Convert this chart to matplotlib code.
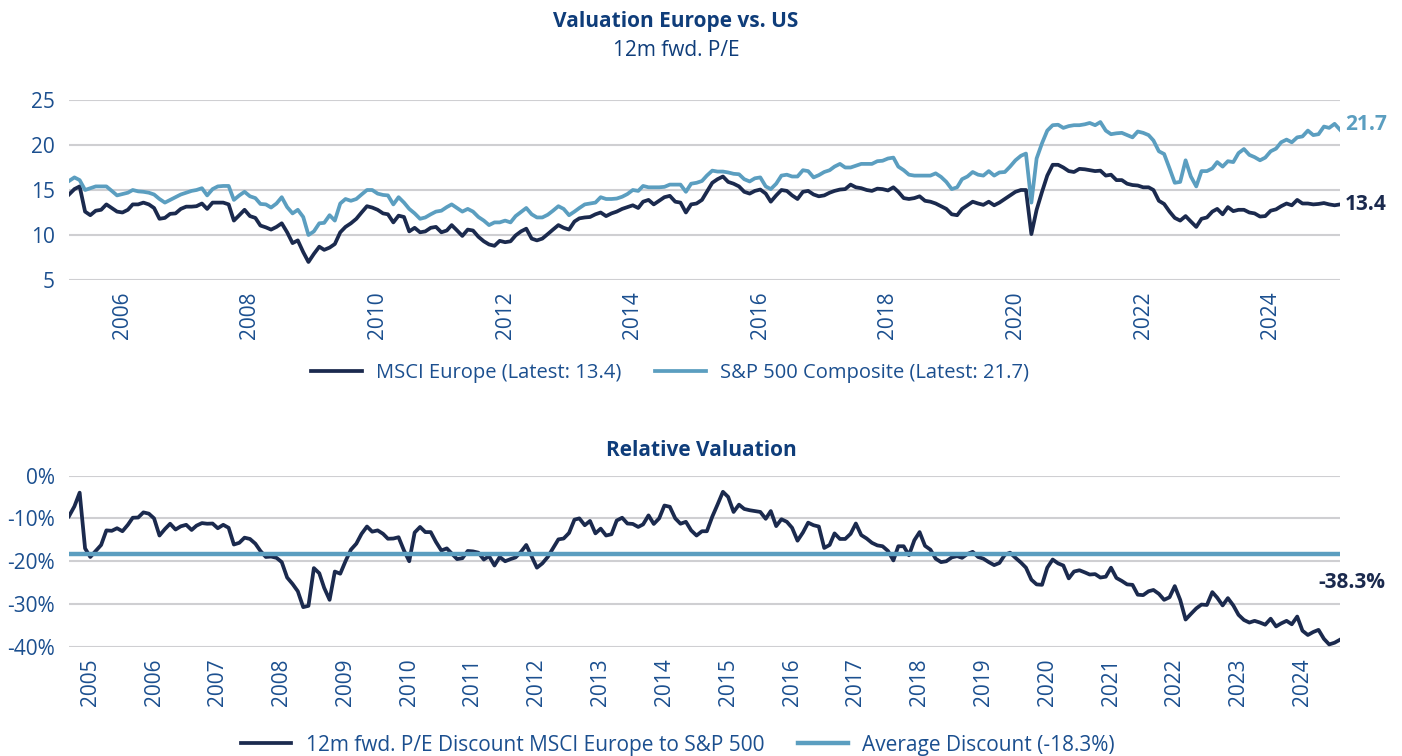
import matplotlib
matplotlib.use('Agg')
import matplotlib.pyplot as plt
import pandas as pd

plt.rcParams['font.family'] = ['Open Sans', 'DejaVu Sans']

# monthly 12m fwd. P/E, Mar 2005 - Feb 2025
europe = [
    14.5, 15.1, 15.4, 12.6, 12.2, 12.7, 12.8, 13.4, 13.0, 12.6,
    12.5, 12.8, 13.4, 13.4, 13.6, 13.4, 13.0, 11.8, 11.9, 12.35,
    12.4, 12.9, 13.15, 13.15, 13.2, 13.5, 12.9, 13.6, 13.6, 13.6,
    13.4, 11.6, 12.2, 12.8, 12.1, 11.9, 11.05, 10.85, 10.6, 10.9,
    11.3, 10.3, 9.1, 9.4, 8.1, 7.0, 7.9, 8.7, 8.35, 8.6,
    9.0, 10.3, 10.9, 11.3, 11.8, 12.5, 13.2, 13.05, 12.8, 12.4,
    12.3, 11.4, 12.15, 12.0, 10.4, 10.8, 10.3, 10.4, 10.8, 10.9,
    10.3, 10.5, 11.1, 10.5, 9.9, 10.6, 10.5, 9.8, 9.3, 8.95,
    8.8, 9.35, 9.2, 9.3, 9.95, 10.4, 10.7, 9.6, 9.4, 9.6,
    10.1, 10.6, 11.1, 10.8, 10.6, 11.5, 11.85, 11.95, 12.0, 12.3,
    12.5, 12.1, 12.4, 12.6, 12.9, 13.1, 13.3, 13.0, 13.7, 13.9,
    13.4, 13.8, 14.2, 14.35, 13.7, 13.6, 12.5, 13.4, 13.5, 13.9,
    14.8, 15.8, 16.2, 16.5, 15.9, 15.7, 15.4, 14.8, 14.6, 14.9,
    15.05, 14.6, 13.7, 14.4, 15.0, 14.9, 14.4, 14.0, 14.8, 14.9,
    14.5, 14.3, 14.4, 14.7, 14.9, 15.05, 15.1, 15.6, 15.3, 15.2,
    15.0, 14.9, 15.15, 15.1, 14.95, 15.3, 14.8, 14.1, 14.0, 14.1,
    14.3, 13.8, 13.7, 13.5, 13.2, 12.9, 12.3, 12.2, 12.9, 13.3,
    13.7, 13.5, 13.35, 13.7, 13.3, 13.6, 14.0, 14.4, 14.8, 15.0,
    15.0, 10.1, 12.8, 14.8, 16.6, 17.8, 17.8, 17.5, 17.1, 17.0,
    17.35, 17.3, 17.2, 17.1, 17.15, 16.6, 16.7, 16.1, 16.1, 15.7,
    15.55, 15.5, 15.3, 15.3, 15.0, 13.8, 13.45, 12.6, 11.9, 11.6,
    12.1, 11.5, 10.9, 11.8, 11.95, 12.6, 12.9, 12.3, 13.1, 12.65,
    12.8, 12.8, 12.5, 12.4, 12.05, 12.1, 12.7, 12.85, 13.2, 13.5,
    13.3, 13.9, 13.5, 13.5, 13.4, 13.45, 13.55, 13.4, 13.3, 13.4,
]
sp500 = [
    16.0, 16.4, 16.1, 15.0, 15.2, 15.4, 15.4, 15.4, 14.9, 14.4,
    14.55, 14.7, 15.0, 14.85, 14.8, 14.7, 14.5, 14.0, 13.6, 13.9,
    14.2, 14.5, 14.7, 14.9, 15.0, 15.2, 14.4, 15.1, 15.4, 15.45,
    15.45, 13.9, 14.4, 14.8, 14.3, 14.1, 13.45, 13.4, 13.05, 13.5,
    14.2, 13.1, 12.4, 12.8, 12.0, 10.0, 10.4, 11.3, 11.35, 12.2,
    11.6, 13.5, 14.0, 13.8, 14.0, 14.5, 15.0, 15.0, 14.6, 14.45,
    14.4, 13.4, 14.2, 13.6, 12.9, 12.4, 11.8, 11.95, 12.3, 12.6,
    12.7, 13.1, 13.4, 13.0, 12.6, 12.9, 12.6, 12.0, 11.6, 11.1,
    11.4, 11.4, 11.6, 11.4, 12.1, 12.55, 13.0, 12.3, 11.95, 11.95,
    12.25, 12.7, 13.2, 12.9, 12.2, 12.6, 13.0, 13.4, 13.5, 13.6,
    14.2, 14.0, 14.0, 14.05, 14.25, 14.55, 15.0, 14.9, 15.45, 15.3,
    15.3, 15.3, 15.35, 15.6, 15.6, 15.6, 14.8, 15.7, 15.8, 16.0,
    16.6, 17.15, 17.05, 17.05, 16.95, 16.8, 16.75, 16.2, 15.95, 16.3,
    16.4, 15.4, 15.1, 15.7, 16.6, 16.7, 16.5, 16.5, 17.2, 17.1,
    16.4, 16.65, 17.0, 17.2, 17.6, 17.9, 17.5, 17.5, 17.7, 17.9,
    17.9, 17.9, 18.2, 18.25, 18.5, 18.6, 17.6, 17.2, 16.7, 16.6,
    16.6, 16.6, 16.6, 16.85, 16.45, 15.9, 15.1, 15.3, 16.2, 16.5,
    17.0, 16.7, 16.6, 17.1, 16.6, 16.95, 17.0, 17.6, 18.3, 18.8,
    19.05, 13.6, 18.5, 20.2, 21.6, 22.2, 22.25, 21.9, 22.1, 22.2,
    22.2, 22.3, 22.45, 22.2, 22.55, 21.6, 21.2, 21.3, 21.35, 21.1,
    20.85, 21.5, 21.35, 21.1, 20.5, 19.3, 19.0, 17.4, 15.8, 15.9,
    18.3, 16.5, 15.4, 17.1, 17.1, 17.4, 18.1, 17.6, 18.2, 18.1,
    19.1, 19.55, 18.9, 18.65, 18.3, 18.6, 19.3, 19.6, 20.3, 20.6,
    20.3, 20.85, 20.95, 21.6, 21.1, 21.2, 22.05, 21.9, 22.35, 21.7,
]
# 12m fwd. P/E discount MSCI Europe to S&P 500, in %
discount = [
    -9.5, -7.2, -4.0, -17.0, -19.0, -17.6, -16.2, -12.8, -12.9, -12.3,
    -13.0, -11.5, -9.85, -9.8, -8.6, -8.9, -10.0, -14.0, -12.5, -11.25,
    -12.6, -11.85, -11.5, -12.7, -11.7, -11.1, -11.25, -11.2, -12.3, -11.5,
    -12.2, -16.1, -15.7, -14.5, -14.8, -15.9, -17.6, -19.0, -18.9, -19.2,
    -20.2, -23.8, -25.3, -27.0, -30.7, -30.4, -21.6, -22.8, -26.2, -29.0,
    -22.4, -22.9, -20.0, -17.3, -15.9, -13.6, -11.9, -13.1, -12.8, -13.6,
    -14.75, -14.7, -14.4, -17.5, -20.0, -13.3, -12.0, -13.2, -13.2, -15.5,
    -17.5, -17.0, -18.2, -19.5, -19.3, -17.6, -17.7, -18.0, -19.6, -18.8,
    -21.0, -19.0, -20.0, -19.5, -19.1, -17.8, -16.2, -18.9, -21.5, -20.5,
    -19.0, -17.0, -14.9, -14.7, -13.4, -10.3, -10.0, -11.6, -10.6, -13.5,
    -12.4, -14.0, -13.7, -10.5, -9.85, -11.2, -11.3, -12.0, -11.4, -9.3,
    -11.3, -10.0, -7.0, -7.3, -10.0, -11.25, -10.8, -12.8, -14.0, -13.0,
    -13.0, -9.6, -6.8, -3.8, -5.0, -8.5, -6.8, -7.8, -8.1, -8.3,
    -8.5, -10.1, -8.3, -11.8, -10.2, -10.8, -12.2, -15.2, -13.3, -11.0,
    -11.6, -11.9, -16.9, -16.2, -13.5, -14.8, -14.8, -13.6, -11.2, -13.9,
    -14.7, -15.7, -16.3, -16.5, -17.6, -19.8, -16.5, -16.5, -18.6, -15.1,
    -13.2, -16.4, -17.3, -19.4, -20.2, -20.0, -19.1, -18.8, -19.2, -18.3,
    -17.8, -19.0, -19.4, -20.2, -20.9, -20.4, -18.5, -18.0, -19.2, -20.3,
    -21.5, -24.3, -25.4, -25.5, -21.5, -19.6, -20.5, -21.0, -24.0, -22.4,
    -22.1, -22.6, -23.1, -23.0, -23.8, -23.6, -21.5, -23.9, -24.6, -25.4,
    -25.5, -27.8, -27.9, -27.0, -26.7, -27.6, -29.0, -28.4, -25.8, -29.0,
    -33.6, -32.3, -31.0, -30.1, -30.2, -27.2, -28.5, -30.3, -28.6, -30.3,
    -32.5, -33.7, -34.3, -33.9, -34.3, -34.8, -33.4, -35.2, -34.5, -33.9,
    -34.7, -32.9, -36.2, -37.2, -36.5, -36.0, -38.1, -39.4, -39.0, -38.3,
]
avg_discount = -18.3
top_years = list(range(2006, 2025, 2))
bottom_years = list(range(2005, 2025))

NAVY = '#1b2a4e'
LIGHT = '#5b9ec0'
BLUE = '#1b4f8f'
TITLE = '#0f3d7a'
GRID = '#cfcfd2'

dates = pd.date_range('2005-03-01', periods=len(europe), freq='MS')

fig = plt.figure(figsize=(14.02, 7.56), dpi=100)
ax1 = fig.add_axes([69 / 1402, 1 - 280 / 756, 1271 / 1402, 180 / 756])
ax2 = fig.add_axes([69 / 1402, 1 - 647 / 756, 1271 / 1402, 171.5 / 756])


def style_axes(ax):
    for s in ax.spines.values():
        s.set_visible(False)
    ax.grid(axis='y', color=GRID, linewidth=1.5)
    ax.set_axisbelow(True)
    ax.tick_params(axis='both', length=0, colors=BLUE, labelsize=15)
    ax.tick_params(axis='y', pad=10)
    ax.tick_params(axis='x', pad=8, labelrotation=90)
    ax.set_xlim(dates[0], dates[-1])


# top chart
style_axes(ax1)
l1, = ax1.plot(dates, europe, color=NAVY, lw=2.7, label='MSCI Europe (Latest: 13.4)')
l2, = ax1.plot(dates, sp500, color=LIGHT, lw=2.7, label='S&P 500 Composite (Latest: 21.7)')
ax1.set_ylim(5, 25)
ax1.set_yticks([5, 10, 15, 20, 25])
ax1.set_xticks([pd.Timestamp(f'{y}-01-01') for y in top_years])
ax1.set_xticklabels([str(y) for y in top_years])
ax1.annotate(f'{sp500[-1]:.1f}', xy=(dates[-1], sp500[-1]), xytext=(5, 5),
             textcoords='offset pixels', va='center', ha='left',
             color=LIGHT, fontsize=15, fontweight='bold', annotation_clip=False)
ax1.annotate(f'{europe[-1]:.1f}', xy=(dates[-1], europe[-1]), xytext=(5, 0),
             textcoords='offset pixels', va='center', ha='left',
             color=NAVY, fontsize=15, fontweight='bold', annotation_clip=False)
fig.legend(handles=[l1, l2], loc='center', bbox_to_anchor=(670 / 1402, 1 - 373 / 756),
           ncol=2, frameon=False, fontsize=14.5, labelcolor=BLUE,
           handlelength=2.5, handletextpad=0.7, columnspacing=1.7)

# bottom chart
style_axes(ax2)
l3, = ax2.plot(dates, discount, color=NAVY, lw=2.7,
               label='12m fwd. P/E Discount MSCI Europe to S&P 500')
l4 = ax2.axhline(avg_discount, color=LIGHT, lw=3.2,
                 label=f'Average Discount ({avg_discount:.1f}%)')
ax2.set_ylim(-40, 0)
ax2.set_yticks([-40, -30, -20, -10, 0])
ax2.set_yticklabels([f'{v}%' for v in [-40, -30, -20, -10, 0]])
ax2.set_xticks([pd.Timestamp(f'{y}-07-01') for y in bottom_years])
ax2.set_xticklabels([str(y) for y in bottom_years])
ax2.annotate(f'{discount[-1]:.1f}%', xy=(dates[-1], discount[-1]), xytext=(12, 57),
             textcoords='offset pixels', va='center', ha='center',
             color=NAVY, fontsize=15, fontweight='bold', annotation_clip=False)
fig.legend(handles=[l3, l4], loc='center', bbox_to_anchor=(678 / 1402, 1 - 745 / 756),
           ncol=2, frameon=False, fontsize=15, labelcolor=BLUE,
           handlelength=2.4, handletextpad=0.7, columnspacing=1.6)

fig.text(676 / 1402, 1 - 22 / 756, 'Valuation Europe vs. US', ha='center', va='center',
         color=TITLE, fontsize=15, fontweight='bold')
fig.text(676 / 1402, 1 - 50 / 756, '12m fwd. P/E', ha='center', va='center',
         color=TITLE, fontsize=15)
fig.text(0.5, 1 - 451 / 756, 'Relative Valuation', ha='center', va='center',
         color=TITLE, fontsize=15, fontweight='bold')

fig.savefig('out.png', dpi=100)
